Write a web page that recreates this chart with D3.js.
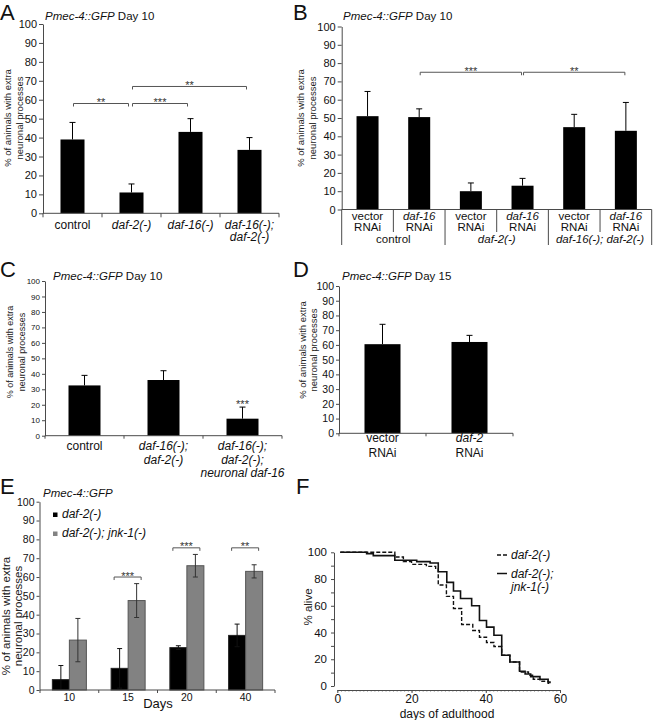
<!DOCTYPE html>
<html><head><meta charset="utf-8">
<script src="https://cdn.jsdelivr.net/npm/d3@7"></script>
<style>body{margin:0;background:#fff}svg{display:block;font-family:"Liberation Sans",Arial,Helvetica,sans-serif}</style>
</head><body><svg id="c" width="653" height="720"></svg>
<script>
// ================= DATA =================
const gene = "Pmec-4::GFP";
const yLab = ["% of animals with extra", "neuronal processes"];
const pctTicks = [0,10,20,30,40,50,60,70,80,90,100];

// Panel A
const dayA = "Day 10";
const catsA = [["control"],["daf-2(-)"],["daf-16(-)"],["daf-16(-);","daf-2(-)"]];
const valsA = [39, 11, 43, 33.5];
const errA  = [9, 4.5, 7, 6.5];
const sigA  = [{a:0,b:1,y:58,t:"**"},{a:1,b:2,y:58,t:"***"},{a:1,b:3,y:67,t:"**"}];

// Panel B
const dayB = "Day 10";
const catsB = [["vector","RNAi"],["daf-16","RNAi"],["vector","RNAi"],["daf-16","RNAi"],["vector","RNAi"],["daf-16","RNAi"]];
const groupsB = ["control","daf-2(-)","daf-16(-); daf-2(-)"];
const valsB = [51, 50.5, 10, 13, 45, 43];
const errB  = [13.5, 4.5, 4.5, 4, 7, 15.5];
const sigB  = [{a:1,b:3,y:75,t:"***"},{a:3,b:5,y:75,t:"**"}];

// Panel C
const dayC = "Day 10";
const catsC = [["control"],["daf-16(-);","daf-2(-)"],["daf-16(-);","daf-2(-);","neuronal daf-16"]];
const valsC = [32.5, 36, 11];
const errC  = [6.5, 6, 7.5];
const sigC  = ["", "", "***"];

// Panel D
const dayD = "Day 15";
const catsD = [["vector","RNAi"],["daf-2","RNAi"]];
const valsD = [60.5, 62];
const errD  = [13.5, 4.5];

// Panel E
const daysE = ["10","15","20","40"];
const seriesE = ["daf-2(-)","daf-2(-); jnk-1(-)"];
const valsE1 = [5.5, 11.5, 22.5, 29];
const errE1  = [7.5, 10.5, 1, 6];
const valsE2 = [26.5, 47.5, 66, 63];
const errE2  = [11.5, 9, 6, 3.5];
const sigE   = [{c:"15",y:60,t:"***"},{c:"20",y:75.5,t:"***"},{c:"40",y:75.5,t:"**"}];
const xLabE  = "Days";

// Panel F (Kaplan-Meier survival, step curves)
const daysF1 = [0.8, 15.5, 17.8, 20, 24, 26.5, 27.2, 29.4, 31.3, 33.5, 36.5, 38.3, 40.2, 42.2, 44.3, 46.5, 49.1, 51.5, 52.8, 54.6, 56.8, 57.3];
const survF1 = [100, 96.5, 93, 91, 89.5, 87.5, 75.5, 67, 58, 46, 41.5, 36.5, 32.5, 29.5, 23, 18, 10.5, 8, 5, 3.5, 2, 1.5];
const daysF2 = [0.8, 7.9, 9.7, 15.5, 21.4, 25, 27.2, 29.5, 31.3, 33.2, 36.2, 38.3, 40.2, 42.2, 44.3, 46.5, 49.1, 50.6, 52.1, 54.6, 56.8, 57.3];
const survF2 = [100, 99, 97.5, 94, 93, 92, 85.5, 77.5, 71, 65.5, 60, 49, 44, 38, 23, 18, 11, 9, 7, 5, 3, 2];
const seriesF = [["daf-2(-)"],["daf-2(-);","jnk-1(-)"]];
const yTicksF = [0,10,20,30,40,50,60,70,80,90,100];
const xTicksF = [0,20,40,60];
const xLabF = "days of adulthood";
const yLabF = "% alive";

// ================= DRAWING =================
const svg = d3.select("#c");
const AX = "#4a4a4a";
const ital = s => /daf|jnk/.test(s);

function letter(x, y, t){ svg.append("text").attr("x",x).attr("y",y).attr("font-size",22).attr("fill","#111").text(t); }
function title(x, y, day, fs){
  const t = svg.append("text").attr("x",x).attr("y",y).attr("font-size",fs).attr("fill","#111");
  t.append("tspan").attr("font-style","italic").text(gene);
  if (day) t.append("tspan").text(" " + day);
}
function yLabel(cx, cy, lines, fs, lh){
  lines.forEach((t,i)=> svg.append("text")
    .attr("transform",`translate(${cx + i*lh},${cy}) rotate(-90)`)
    .attr("text-anchor","middle").attr("font-size",fs).attr("fill","#222").text(t));
}
function lines(x, y0, arr, fs, lh){
  arr.forEach((t,i)=> svg.append("text").attr("x",x).attr("y",y0 + i*lh)
    .attr("text-anchor","middle").attr("font-size",fs).attr("fill","#111")
    .attr("font-style", ital(t) ? "italic" : "normal").text(t));
}
function yAxis(x, y, ticks, fs, ts, pad, fmt){
  const ax = d3.axisLeft(y).tickValues(ticks).tickSize(ts).tickSizeOuter(0).tickPadding(pad);
  if (fmt) ax.tickFormat(fmt);
  const g = svg.append("g").attr("transform",`translate(${x},0)`).call(ax);
  g.attr("font-family",null).attr("font-size",null);
  g.selectAll("text").attr("font-size",fs).attr("fill","#111");
  g.selectAll("line,path").attr("stroke",AX);
  return g;
}
function xBaseline(xs, y0, ts){
  const r = xs.range();
  svg.append("line").attr("x1",r[0]).attr("x2",r[1]).attr("y1",y0).attr("y2",y0).attr("stroke",AX);
  const n = xs.domain().length;
  for (let i=0;i<=n;i++){
    const xx = r[0] + i*xs.step();
    svg.append("line").attr("x1",xx).attr("x2",xx).attr("y1",y0).attr("y2",y0+ts).attr("stroke",AX);
  }
}
function bars(xs, y, vals, errs, fill, stroke, cap, off, bw){
  vals.forEach((v,i)=>{
    const x0 = xs(i) + (off||0), w = bw || xs.bandwidth();
    svg.append("rect").attr("x",x0).attr("y",y(v)).attr("width",w).attr("height",y(0)-y(v))
      .attr("fill",fill).attr("stroke",stroke||"none").attr("stroke-width",1);
  });
}
function errUp(xs, y, vals, errs, cap, col, off, bw, both){
  vals.forEach((v,i)=>{
    const cx = xs(i) + (off||0) + (bw || xs.bandwidth())/2;
    const top = y(v + errs[i]);
    const bot = both ? y(Math.max(0, v - errs[i])) : y(v);
    svg.append("line").attr("x1",cx).attr("x2",cx).attr("y1",bot).attr("y2",top).attr("stroke",col);
    svg.append("line").attr("x1",cx-cap).attr("x2",cx+cap).attr("y1",top).attr("y2",top).attr("stroke",col);
    if (both && v - errs[i] > 0)
      svg.append("line").attr("x1",cx-cap).attr("x2",cx+cap).attr("y1",bot).attr("y2",bot).attr("stroke",col);
  });
}
function bracket(xa, xb, yy, t, fs){
  svg.append("path").attr("d",`M${xa},${yy+3}V${yy}H${xb}V${yy+3}`).attr("fill","none").attr("stroke","#555");
  svg.append("text").attr("x",(xa+xb)/2).attr("y",yy+2.5).attr("text-anchor","middle")
    .attr("font-size",fs).attr("fill","#333").text(t);
}

// ---------- Panel A ----------
{
  const x = d3.scaleBand().domain(d3.range(valsA.length)).range([43,279]).paddingInner(0.593).paddingOuter(0.2965);
  const y = d3.scaleLinear().domain([0,100]).range([213.3,24]);
  letter(0,20,"A");
  title(45,20,dayA,11.5);
  yLabel(10.5,118,yLab,9.5,12.5);
  bars(x,y,valsA,errA,"#000");
  errUp(x,y,valsA,errA,3,"#000");
  yAxis(43,y,pctTicks,11,4,2);
  xBaseline(x,213.3,4);
  catsA.forEach((c,i)=> lines(x(i)+x.bandwidth()/2, 228.5, c, 12, 12.5));
  sigA.forEach(s=>{
    const ca = x(s.a)+x.bandwidth()/2, cb = x(s.b)+x.bandwidth()/2;
    bracket(ca+1, cb-3, y(s.y), s.t, 11);
  });
}

// ---------- Panel B ----------
{
  const x = d3.scaleBand().domain(d3.range(valsB.length)).range([341.7,651.7]).paddingInner(0.574).paddingOuter(0.287);
  const y = d3.scaleLinear().domain([0,100]).range([209.5,26.5]);
  letter(293,20,"B");
  title(343,20,dayB,11.5);
  yLabel(304,118,yLab,9.5,11.5);
  bars(x,y,valsB,errB,"#000");
  errUp(x,y,valsB,errB,3,"#000");
  yAxis(341.7,y,pctTicks,11,4,2);
  const r = x.range();
  svg.append("line").attr("x1",r[0]).attr("x2",r[1]).attr("y1",209.5).attr("y2",209.5).attr("stroke",AX);
  for (let i=0;i<=valsB.length;i++){
    const xx = r[0] + i*x.step();
    svg.append("line").attr("x1",xx).attr("x2",xx).attr("y1",209.5).attr("y2", i%2===0 ? 245 : 232).attr("stroke",AX);
  }
  catsB.forEach((c,i)=> lines(x(i)+x.bandwidth()/2, 219.5, c, 11.5, 11.5));
  groupsB.forEach((g,i)=> lines(r[0] + (2*i+1)*x.step(), 243, [g], 11.5, 11.5));
  sigB.forEach(s=>{
    const ca = x(s.a)+x.bandwidth()/2, cb = x(s.b)+x.bandwidth()/2;
    bracket(ca+1, cb-1, y(s.y), s.t, 11);
  });
}

// ---------- Panel C ----------
{
  const x = d3.scaleBand().domain(d3.range(valsC.length)).range([45,282]).paddingInner(0.595).paddingOuter(0.2975);
  const y = d3.scaleLinear().domain([0,100]).range([435.7,281]);
  letter(0,277,"C");
  title(53,279.5,dayC,11.5);
  yLabel(13,352,yLab,9,11.5);
  bars(x,y,valsC,errC,"#000");
  errUp(x,y,valsC,errC,3,"#000");
  yAxis(45,y,pctTicks,8,3,2);
  xBaseline(x,435.7,3);
  catsC.forEach((c,i)=> lines(x(i)+x.bandwidth()/2, 450, c, 12, 13.5));
  sigC.forEach((t,i)=>{ if(t) svg.append("text").attr("x",x(i)+x.bandwidth()/2).attr("y",y(valsC[i]+errC[i])+0.5)
      .attr("text-anchor","middle").attr("font-size",11).attr("fill","#333").text(t); });
}

// ---------- Panel D ----------
{
  const x = d3.scaleBand().domain(d3.range(valsD.length)).range([339,513]).paddingInner(0.586).paddingOuter(0.293);
  const y = d3.scaleLinear().domain([0,100]).range([433.3,286]);
  letter(293,277,"D");
  title(342,279.5,dayD,11.5);
  yLabel(306,350,yLab,9.5,11);
  bars(x,y,valsD,errD,"#000");
  errUp(x,y,valsD,errD,3,"#000");
  yAxis(339,y,pctTicks,10.5,3,2);
  xBaseline(x,433.3,3);
  catsD.forEach((c,i)=> lines(x(i)+x.bandwidth()/2, 442, c, 12, 14.5));
}

// ---------- Panel E ----------
{
  const x = d3.scaleBand().domain(daysE).range([40,275]).paddingInner(0.421).paddingOuter(0.2105);
  const xi = d3.scaleBand().domain([0,1]).range([0,x.bandwidth()]);
  const y = d3.scaleLinear().domain([0,100]).range([690,501.7]);
  const xb = i => x(daysE[i]);
  xb.bandwidth = () => x.bandwidth();
  letter(0,494,"E");
  title(43,497,"",11.5);
  yLabel(10,616,yLab,11.5,11.5);
  bars(xb,y,valsE1,errE1,"#000","#222",0,xi(0),xi.bandwidth());
  bars(xb,y,valsE2,errE2,"#828282","#555",0,xi(1),xi.bandwidth());
  errUp(xb,y,valsE1,errE1,2.5,"#111",xi(0),xi.bandwidth(),true);
  errUp(xb,y,valsE2,errE2,2.5,"#333",xi(1),xi.bandwidth(),true);
  yAxis(39.5,y,pctTicks,10.5,3,2);
  xBaseline(x,690,3);
  daysE.forEach(d=> svg.append("text").attr("x",x(d)+x.bandwidth()/2).attr("y",701)
     .attr("text-anchor","middle").attr("font-size",10.5).attr("fill","#111").text(d));
  svg.append("text").attr("x",158).attr("y",708).attr("text-anchor","middle").attr("font-size",13).attr("fill","#111").text(xLabE);
  sigE.forEach(s=>{
    const x0 = x(s.c);
    bracket(x0+3, x0+x.bandwidth()-4, y(s.y), s.t, 11);
  });
  // legend
  const lc = ["#000","#828282"];
  seriesE.forEach((s,i)=>{
    svg.append("rect").attr("x",53).attr("y",512.5+i*19).attr("width",4.5).attr("height",4.5).attr("fill",lc[i]);
    svg.append("text").attr("x",62).attr("y",518+i*19).attr("font-size",12).attr("font-style","italic").attr("fill","#111").text(s);
  });
}

// ---------- Panel F ----------
{
  const x = d3.scaleLinear().domain([0,60]).range([337.3,560]);
  const y = d3.scaleLinear().domain([0,100]).range([686,552.3]);
  letter(296,494,"F");
  // y axis
  yAxis(334,y,yTicksF,11.5,3,4,d=> d%20===0 ? d : "");
  // x axis
  const xa = svg.append("g").attr("transform","translate(0,690)")
    .call(d3.axisBottom(x).tickValues(d3.range(0,61,1)).tickSize(1.5).tickSizeOuter(0).tickFormat(""));
  xa.selectAll("line,path").attr("stroke","#777");
  const xa2 = svg.append("g").attr("transform","translate(0,690)")
    .call(d3.axisBottom(x).tickValues(xTicksF).tickSize(3).tickSizeOuter(0).tickPadding(1));
  xa2.attr("font-family",null).attr("font-size",null);
  xa2.selectAll("text").attr("font-size",12).attr("fill","#111");
  xa2.selectAll("line,path").attr("stroke",AX);
  svg.append("text").attr("x",447).attr("y",718).attr("text-anchor","middle").attr("font-size",12).attr("fill","#111").text(xLabF);
  yLabel(312,607,[yLabF],11.5,0);
  const line = d3.line().x(d=>x(d[0])).y(d=>y(d[1])).curve(d3.curveStepAfter);
  const d1 = daysF1.map((d,i)=>[d,survF1[i]]);
  const d2 = daysF2.map((d,i)=>[d,survF2[i]]);
  svg.append("path").attr("d",line(d2)).attr("fill","none").attr("stroke","#111").attr("stroke-width",1.6);
  svg.append("path").attr("d",line(d1)).attr("fill","none").attr("stroke","#111").attr("stroke-width",1.4).attr("stroke-dasharray","4,2");
  // legend
  const ly = [555, 573.5];
  const dash = ["4,2", null];
  seriesF.forEach((s,i)=>{
    svg.append("line").attr("x1",497).attr("x2",507).attr("y1",ly[i]).attr("y2",ly[i]).attr("stroke","#111")
      .attr("stroke-width",1.5).attr("stroke-dasharray",dash[i]);
    s.forEach((t,j)=> svg.append("text").attr("x",511).attr("y",ly[i]+4+j*13.5).attr("font-size",12)
      .attr("font-style","italic").attr("fill","#111").text(t));
  });
}
</script></body></html>
